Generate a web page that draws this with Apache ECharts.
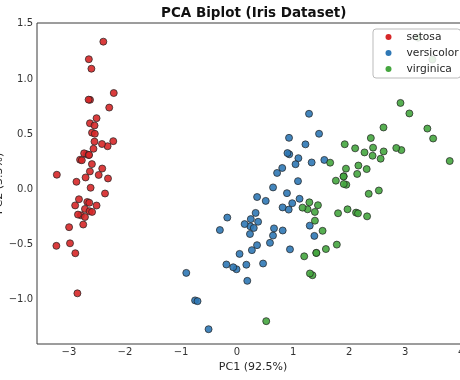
<!DOCTYPE html>
<html>
<head>
<meta charset="utf-8">
<script src="https://cdn.jsdelivr.net/npm/echarts@6/dist/echarts.min.js"></script>
<style>
html,body{margin:0;padding:0;background:#fff;}
#chart{width:460px;height:380px;}
</style>
</head>
<body>
<div id="chart"></div>
<script>
const chartTitle = 'PCA Biplot (Iris Dataset)';
const xLabel = 'PC1 (92.5%)';
const yLabel = 'PC2 (5.3%)';
const speciesNames = ['setosa', 'versicolor', 'virginica'];
const speciesColors = ['#d62728', '#2f78b5', '#45a63f'];
const xTicks = [-3, -2, -1, 0, 1, 2, 3, 4];
const yTicks = [-1.0, -0.5, 0.0, 0.5, 1.0, 1.5];

const setosa = [
[-2.684,0.319],[-2.714,-0.177],[-2.889,-0.145],[-2.745,-0.318],[-2.729,0.327],
[-2.281,0.741],[-2.821,-0.089],[-2.626,0.163],[-2.886,-0.578],[-2.673,-0.114],
[-2.507,0.645],[-2.613,0.015],[-2.786,-0.235],[-3.224,-0.511],[-2.645,1.179],
[-2.386,1.338],[-2.624,0.811],[-2.648,0.312],[-2.200,0.873],[-2.588,0.514],
[-2.310,0.391],[-2.544,0.433],[-3.216,0.133],[-2.303,0.099],[-2.356,-0.037],
[-2.507,-0.146],[-2.469,0.131],[-2.562,0.368],[-2.640,0.312],[-2.632,-0.197],
[-2.587,-0.204],[-2.410,0.411],[-2.649,0.813],[-2.599,1.093],[-2.637,-0.121],
[-2.866,0.069],[-2.625,0.599],[-2.801,0.269],[-2.981,-0.488],[-2.590,0.229],
[-2.770,0.264],[-2.849,-0.941],[-2.997,-0.342],[-2.406,0.189],[-2.209,0.437],
[-2.714,-0.250],[-2.538,0.504],[-2.839,-0.228],[-2.543,0.579],[-2.703,0.108]
];
const versicolor = [
[1.285,0.685],[0.932,0.318],[1.464,0.504],[0.183,-0.828],[1.088,0.075],
[0.642,-0.418],[1.095,0.283],[-0.749,-1.005],[1.044,0.228],[-0.009,-0.723],
[-0.508,-1.266],[0.512,-0.104],[0.265,-0.550],[0.985,-0.125],[-0.174,-0.255],
[0.928,0.467],[0.660,-0.353],[0.236,-0.334],[0.945,-0.543],[0.045,-0.584],
[1.116,-0.085],[0.358,-0.069],[1.298,-0.328],[0.922,-0.183],[0.715,0.149],
[0.900,0.329],[1.332,0.244],[1.558,0.267],[0.813,-0.163],[-0.306,-0.368],
[-0.068,-0.705],[-0.190,-0.680],[0.136,-0.314],[1.380,-0.421],[0.588,-0.484],
[0.807,0.194],[1.221,0.408],[0.815,-0.372],[0.246,-0.269],[0.166,-0.682],
[0.465,-0.671],[0.891,-0.034],[0.231,-0.404],[-0.705,-1.012],[0.357,-0.505],
[0.332,-0.213],[0.376,-0.293],[0.643,0.018],[-0.906,-0.756],[0.299,-0.349]
];
const virginica = [
[2.531,-0.010],[1.415,-0.575],[2.617,0.344],[1.972,-0.180],[2.350,-0.040],
[3.397,0.551],[0.521,-1.193],[2.933,0.356],[2.321,-0.244],[2.917,0.783],
[1.662,0.242],[1.803,-0.216],[2.166,0.216],[1.346,-0.777],[1.586,-0.540],
[1.904,0.119],[1.950,0.042],[3.487,1.176],[3.796,0.257],[1.301,-0.761],
[2.428,0.378],[1.199,-0.606],[3.500,0.461],[1.389,-0.204],[2.275,0.335],
[2.614,0.561],[1.259,-0.180],[1.291,-0.117],[2.124,-0.210],[2.388,0.465],
[2.842,0.375],[3.231,1.374],[2.159,-0.217],[1.444,-0.143],[1.781,-0.500],
[3.076,0.688],[2.144,0.140],[1.905,0.049],[1.169,-0.165],[2.108,0.372],
[2.314,0.184],[1.922,0.409],[1.415,-0.575],[2.563,0.278],[2.419,0.305],
[1.944,0.188],[1.527,-0.375],[1.764,0.079],[1.901,0.117],[1.390,-0.283]
];
const seriesData = [setosa, versicolor, virginica];

const fmt = v => {
  const s = Number.isInteger(v) ? String(v) : v.toFixed(1);
  return s.replace('-', '\u2212');
};
const fmtY = v => v.toFixed(1).replace('-', '\u2212');

const font = 'DejaVu Sans';
const textColor = '#262626';

const chart = echarts.init(document.getElementById('chart'));
const option = {
  animation: false,
  backgroundColor: '#ffffff',
  graphic: [{
    type: 'text',
    left: 253 - 92, top: 6,
    style: { text: chartTitle, fontFamily: font, fontSize: 13.5, fontWeight: 'bold', fill: '#111' }
  }],
  grid: {
    left: 37, top: 23, width: 432, height: 321,
    outerBoundsMode: 'none', containLabel: false,
    show: true, borderColor: '#3a3a3a', borderWidth: 1, backgroundColor: 'transparent'
  },
  legend: {
    orient: 'vertical',
    left: 373, top: 29,
    data: speciesNames,
    icon: 'circle',
    itemWidth: 26, itemHeight: 6, itemGap: 4,
    padding: [2, 2, 3, 12.5],
    backgroundColor: 'rgba(255,255,255,0.85)',
    borderColor: '#bbbbbb', borderWidth: 1, borderRadius: 3,
    itemStyle: { borderWidth: 0, opacity: 1 },
    textStyle: { fontFamily: font, fontSize: 10.7, color: textColor, lineHeight: 12 }
  },
  xAxis: {
    type: 'value', min: -3.57, max: 4.14,
    name: xLabel, nameLocation: 'middle', nameGap: 18,
    nameMoveOverlap: false,
    nameTextStyle: { fontFamily: font, fontSize: 11, color: textColor },
    axisLine: { show: false }, axisTick: { show: false }, splitLine: { show: false },
    axisLabel: {
      customValues: xTicks, formatter: v => fmt(v), margin: 3,
      fontFamily: font, fontSize: 10, color: '#333'
    }
  },
  yAxis: {
    type: 'value', min: -1.40, max: 1.507,
    name: yLabel, nameLocation: 'middle', nameGap: 32,
    nameMoveOverlap: false,
    nameTextStyle: { fontFamily: font, fontSize: 11, color: textColor },
    axisLine: { show: false }, axisTick: { show: false }, splitLine: { show: false },
    axisLabel: {
      customValues: yTicks, formatter: v => fmtY(v), margin: 4,
      fontFamily: font, fontSize: 10, color: '#333'
    }
  },
  series: speciesNames.map((name, i) => ({
    name: name,
    type: 'scatter',
    data: seriesData[i],
    symbol: 'circle',
    symbolSize: 7,
    itemStyle: { color: speciesColors[i], borderColor: '#222', borderWidth: 0.8, opacity: 0.9 },
    z: 2
  }))
};
chart.setOption(option);
</script>
</body>
</html>
